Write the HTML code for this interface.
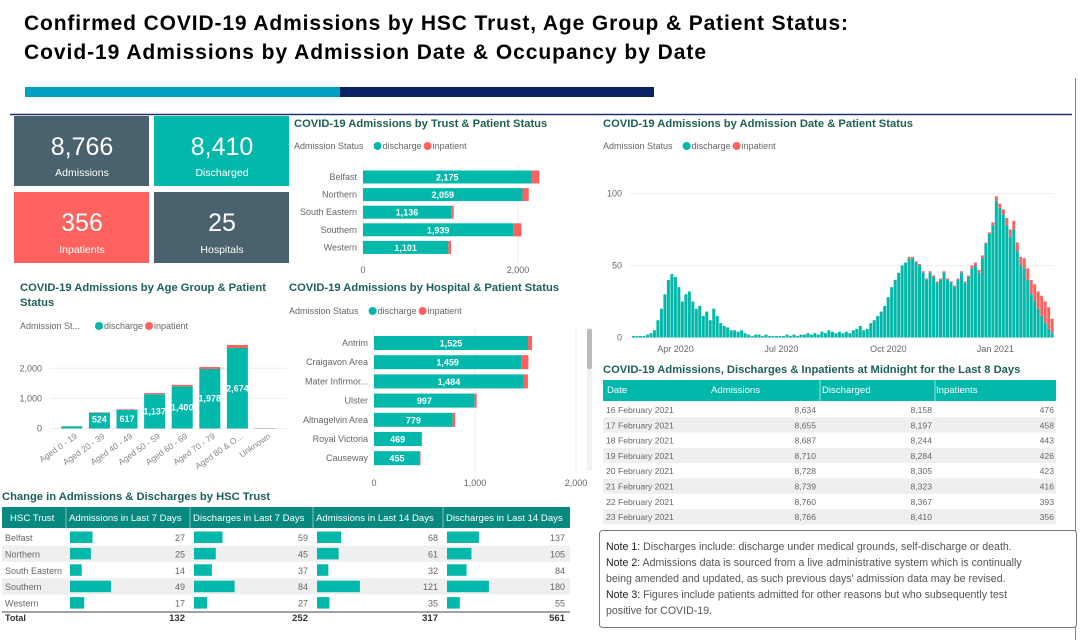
<!DOCTYPE html>
<html><head><meta charset="utf-8">
<style>
html,body{margin:0;padding:0;background:#fff;}
svg{display:block;font-family:"Liberation Sans",sans-serif;}
</style></head>
<body>
<svg id="s" width="1080" height="640" viewBox="0 0 1080 640" xmlns="http://www.w3.org/2000/svg">
  <text x="24" y="30" font-size="21" font-weight="bold" fill="#000" textLength="824" lengthAdjust="spacing">Confirmed  COVID-19  Admissions  by HSC Trust, Age Group &amp; Patient Status:</text>
  <text x="24" y="59" font-size="21" font-weight="bold" fill="#000" textLength="682" lengthAdjust="spacing">Covid-19  Admissions  by  Admission  Date &amp; Occupancy  by  Date</text>
  <rect x="25" y="87" width="315" height="10" fill="#00a0c6"/>
  <rect x="340" y="87" width="314" height="10" fill="#0b2161"/>
  <line x1="10" y1="114.5" x2="1072" y2="114.5" stroke="#1f3070" stroke-width="1.5"/>
  <line x1="1075.5" y1="78" x2="1075.5" y2="640" stroke="#888" stroke-width="1"/>

  <g>
    <rect x="14" y="116" width="135" height="70" fill="#4a626d"/>
    <text x="82" y="155" font-size="25" fill="#fff" text-anchor="middle">8,766</text>
    <text x="82" y="176" font-size="10.5" fill="#fff" text-anchor="middle">Admissions</text>
  </g>
  <g>
    <rect x="154" y="116" width="135" height="70" fill="#01b8aa"/>
    <text x="222" y="155" font-size="25" fill="#fff" text-anchor="middle">8,410</text>
    <text x="222" y="176" font-size="10.5" fill="#fff" text-anchor="middle">Discharged</text>
  </g>
  <g>
    <rect x="14" y="192" width="135" height="71" fill="#fd625e"/>
    <text x="82" y="231" font-size="25" fill="#fff" text-anchor="middle">356</text>
    <text x="82" y="253" font-size="10.5" fill="#fff" text-anchor="middle">Inpatients</text>
  </g>
  <g>
    <rect x="154" y="192" width="135" height="71" fill="#4a626d"/>
    <text x="222" y="231" font-size="25" fill="#fff" text-anchor="middle">25</text>
    <text x="222" y="253" font-size="10.5" fill="#fff" text-anchor="middle">Hospitals</text>
  </g>

  <g id="trust"></g>
  <g id="daily"></g>
  <g id="age"></g>
  <g id="hosp"></g>
  <g id="change"></g>
  <g id="last8"></g>

  <g>
    <rect x="599.5" y="530.5" width="477" height="97" rx="3" fill="#fff" stroke="#777"/>
    <g font-size="10.6" fill="#555">
      <text x="606" y="550"><tspan fill="#222">Note 1:</tspan> Discharges include: discharge under medical grounds, self-discharge or death.</text>
      <text x="606" y="566"><tspan fill="#222">Note 2:</tspan> Admissions data is sourced from a live administrative system which is continually</text>
      <text x="606" y="582">being amended and updated, as such previous days' admission data may be revised.</text>
      <text x="606" y="598"><tspan fill="#222">Note 3:</tspan> Figures include patients admitted for other reasons but who subsequently test</text>
      <text x="606" y="614">positive for COVID-19.</text>
    </g>
  </g>
</svg>
<script>
const TEAL = "#01b8aa", RED = "#fd625e", TITLE = "#1d5f5a", GREY = "#666";
// ---- data ----
const trustNames = ["Belfast","Northern","South Eastern","Southern","Western"];
const trustDischarge = [2175,2059,1136,1939,1101];
const trustInpatient = [100,80,35,105,36];

const ageNames = ["Aged 0 - 19","Aged 20 - 39","Aged 40 - 49","Aged 50 - 59","Aged 60 - 69","Aged 70 - 79","Aged 80 & O...","Unknown"];
const ageDischarge = [70,524,617,1137,1400,1978,2674,10];
const ageInpatient = [5,15,20,40,50,65,100,5];
const ageTicks = [0,1000,2000];

const hospNames = ["Antrim","Craigavon Area","Mater Infirmor...","Ulster","Altnagelvin Area","Royal Victoria","Causeway"];
const hospDischarge = [1525,1459,1484,997,779,469,455];
const hospInpatient = [40,70,40,20,25,8,6];

// daily chart: 3-day bins starting 27 Feb 2020 (average daily admissions)
const dailyStart = "2020-02-27";
const dailyDischarge = [1,1,1,1, 2,3,5,12,20,30,40,
 44,42,35,25,30,32,25,20,22,15,
 18,12,20,15,10,8,7,5,5,4,
 5,3,2,1,2,2,1,2,1,1,
 1,1,1,2,1,2,1,2,2,3,
 2,3,2,4,3,5,4,3,4,3,
 4,3,5,6,8,5,6,10,12,15,
 18,22,28,35,40,45,50,52,55,55,
 52,50,45,40,45,42,38,40,45,40,
 38,35,40,45,38,42,48,50,45,55,
 65,72,78,95,90,85,78,70,75,60,
 50,48,40,30,25,20,15,10,6,3];
const dailyInpatient = [0,0,0,0,0,0,0,0,0,0,0,
 0,0,0,0,0,0,0,0,0,0, 0,0,0,0,0,0,0,0,0,0, 0,0,0,0,0,0,0,0,0,0,
 0,0,0,0,0,0,0,0,0,0, 0,0,0,0,0,0,0,0,0,0, 0,0,0,0,0,0,0,0,0,0,
 0,0,0,0,0,0,0,0,1,1, 1,1,1,1,1,1,1,1,1,1, 1,1,1,1,1,1,2,2,2,2,
 1,1,2,3,3,4,5,5,6,6, 6,7,8,10,12,12,14,15,15,10];
const dailyTicks = [0,50,100];
const monthTicks = ["2020-04-01","2020-07-01","2020-10-01","2021-01-01"];
const monthLabels = ["Apr 2020","Jul 2020","Oct 2020","Jan 2021"];

const changeHeaders = ["HSC Trust","Admissions in Last 7 Days","Discharges in Last 7 Days","Admissions in Last 14 Days","Discharges in Last 14 Days"];
const changeTrusts = ["Belfast","Northern","South Eastern","Southern","Western"];
const adm7 = [27,25,14,49,17];
const dis7 = [59,45,37,84,27];
const adm14 = [68,61,32,121,35];
const dis14 = [137,105,84,180,55];

const l8Dates = ["16 February 2021","17 February 2021","18 February 2021","19 February 2021","20 February 2021","21 February 2021","22 February 2021","23 February 2021"];
const l8Adm = [8634,8655,8687,8710,8728,8739,8760,8766];
const l8Dis = [8158,8197,8244,8284,8305,8323,8367,8410];
const l8Inp = [476,458,443,426,423,416,393,356];

// ---- helpers ----
const NS = "http://www.w3.org/2000/svg";
function mk(parent, tag, attrs, txt){
  const e = document.createElementNS(NS, tag);
  for (const k in attrs) e.setAttribute(k, attrs[k]);
  if (txt !== undefined) e.textContent = txt;
  parent.appendChild(e); return e;
}
const fmt = v => v.toLocaleString("en-US");
function legend(g, x, y, label){
  const t = mk(g,"text",{x:x,y:y,"font-size":9,fill:GREY},label);
  
  
  const w = label.length*4.6+6;
  const c1 = mk(g,"circle",{cx:x+w+4,cy:y-3,r:4,fill:TEAL});
  
  
  mk(g,"text",{x:x+w+9,y:y,"font-size":9,fill:GREY},"discharge");
  const c2 = mk(g,"circle",{cx:x+w+54,cy:y-3,r:4,fill:RED});
  
  
  mk(g,"text",{x:x+w+59,y:y,"font-size":9,fill:GREY},"inpatient");
}
function title(g,x,y,txt,name){
  const t = mk(g,"text",{x:x,y:y,"font-size":11.2,"font-weight":"bold",fill:TITLE},txt);
  
  
}

// ---- horizontal stacked bar ----
function hbar(gid, names, dis, inp, opt){
  const g = document.getElementById(gid);
  const sx = v => opt.x0 + v*opt.k;
  opt.ticks.forEach(t=>{
    mk(g,"line",{x1:sx(t),x2:sx(t),y1:opt.gridTop,y2:opt.gridBot,stroke:"#eee"});
    const tl = mk(g,"text",{x:sx(t),y:opt.tickY,"font-size":9,fill:GREY,"text-anchor":"middle"},fmt(t));
    
    
  });
  names.forEach((n,i)=>{
    const cy = opt.y0 + i*opt.step;
    const lab = mk(g,"text",{x:opt.x0-6,y:cy+3,"font-size":9,fill:GREY,"text-anchor":"end"},n);
    
    
    const b1 = mk(g,"rect",{x:sx(0),y:cy-opt.h/2,width:dis[i]*opt.k,height:opt.h,fill:TEAL});
    
    
    const b2 = mk(g,"rect",{x:sx(dis[i]),y:cy-opt.h/2,width:inp[i]*opt.k,height:opt.h,fill:RED});
    
    
    const v = mk(g,"text",{x:sx(dis[i]/2),y:cy+3.5,"font-size":9,"font-weight":"bold",fill:"#fff","text-anchor":"middle"},fmt(dis[i]));
    
    
  });
}

// trust chart
(function(){
  const g = document.getElementById("trust");
  title(g,294,127,"COVID-19 Admissions by Trust & Patient Status","trust-chart-title");
  legend(g,294,149,"Admission Status");
  hbar("trust",trustNames,trustDischarge,trustInpatient,{x0:363,k:0.0775,y0:177,step:17.6,h:13,ticks:[0,2000],tickY:273,gridTop:165,gridBot:262});
})();

// hospital chart
(function(){
  const g = document.getElementById("hosp");
  title(g,289,291,"COVID-19 Admissions by Hospital & Patient Status","hospital-chart-title");
  legend(g,289,314,"Admission Status");
  hbar("hosp",hospNames,hospDischarge,hospInpatient,{x0:374,k:0.101,y0:343,step:19.2,h:14,ticks:[0,1000,2000],tickY:486,gridTop:328,gridBot:472});
  const sb = mk(g,"rect",{x:587,y:328,width:5,height:143,fill:"#f2f2f2"});
  
  
  const th = mk(g,"rect",{x:587,y:329,width:5,height:40,rx:2,fill:"#bbb"});
  
  
})();

// age chart
(function(){
  const g = document.getElementById("age");
  title(g,20,291,"COVID-19 Admissions by Age Group & Patient","age-chart-title-line1");
  title(g,20,306,"Status","age-chart-title-line2");
  legend(g,20,329,"Admission St...");
  const y0 = 428.5, k = 0.0301;
  const sy = v => y0 - v*k;
  const x0 = 58, step = 27.6, bw = 21;
  ageTicks.forEach(t=>{
    mk(g,"line",{x1:50,x2:287,y1:sy(t),y2:sy(t),stroke:"#eee"});
    const tl = mk(g,"text",{x:42,y:sy(t)+3,"font-size":9,fill:GREY,"text-anchor":"end"},fmt(t));
    
    
  });
  ageNames.forEach((n,i)=>{
    const cx = x0 + i*step + step/2;
    const b1 = mk(g,"rect",{x:cx-bw/2,y:sy(ageDischarge[i]),width:bw,height:ageDischarge[i]*k,fill:TEAL});
    
    
    const b2 = mk(g,"rect",{x:cx-bw/2,y:sy(ageDischarge[i]+ageInpatient[i]),width:bw,height:ageInpatient[i]*k,fill:RED});
    
    
    if (ageDischarge[i] > 300){
      const v = mk(g,"text",{x:cx,y:Math.min(sy(ageDischarge[i]/2)+3,y0-6),"font-size":9,"font-weight":"bold",fill:"#fff","text-anchor":"middle"},fmt(ageDischarge[i]));
      
      
    }
    const lab = mk(g,"text",{x:cx+6,y:y0+9,"font-size":8.5,fill:"#888","text-anchor":"end",transform:`rotate(-35 ${cx+6} ${y0+9})`},n);
    
    
  });
})();

// daily chart
(function(){
  const g = document.getElementById("daily");
  title(g,603,127,"COVID-19 Admissions by Admission Date & Patient Status","daily-chart-title");
  legend(g,603,149,"Admission Status");
  const t0 = Date.parse(dailyStart), DAY = 86400000;
  const xDay = d => 632 + d*1.163;
  const xDate = s => xDay((Date.parse(s)-t0)/DAY);
  const y0 = 337.5, k = 1.44;
  const sy = v => y0 - v*k;
  dailyTicks.forEach(t=>{
    mk(g,"line",{x1:630,x2:1054,y1:sy(t),y2:sy(t),stroke:"#eee"});
    const tl = mk(g,"text",{x:622,y:sy(t)+3,"font-size":9,fill:GREY,"text-anchor":"end"},t);
    
    
  });
  monthTicks.forEach((m,i)=>{
    const tl = mk(g,"text",{x:xDate(m)+4,y:352,"font-size":9,fill:GREY,"text-anchor":"middle"},monthLabels[i]);
    
    
  });
  const bw = 3*1.163 - 0.5;
  dailyDischarge.forEach((v,i)=>{
    const x = xDay(i*3);
    const b1 = mk(g,"rect",{x:x,y:sy(v),width:bw,height:v*k,fill:TEAL});
    
    
    const p = dailyInpatient[i];
    const b2 = mk(g,"rect",{x:x,y:sy(v+p),width:bw,height:p*k,fill:RED});
    
    
  });
})();

// change table
(function(){
  const g = document.getElementById("change");
  title(g,2,500,"Change in Admissions & Discharges by HSC Trust","change-table-title");
  const cols = [2,66,190,313,443,570];
  const hdr = mk(g,"rect",{x:2,y:507,width:568,height:21,fill:"#07897f"});
  
  
  changeHeaders.forEach((h,i)=>{
    if(i>0) mk(g,"line",{x1:cols[i],x2:cols[i],y1:507,y2:528,stroke:"#fff","stroke-opacity":0.5});
    const t = mk(g,"text",{x:cols[i]+ (i==0?8:3),y:521,"font-size":9.6,fill:"#fff"},h);
    
    
  });
  const series = [adm7,dis7,adm14,dis14];
  const maxes = series.map(s=>Math.max(...s));
  changeTrusts.forEach((n,r)=>{
    const y = 529 + r*16.4;
    if (r%2==1) mk(g,"rect",{x:2,y:y,width:568,height:16.4,fill:"#efefef"});
    const t = mk(g,"text",{x:5,y:y+12,"font-size":9,fill:GREY},n);
    
    
    series.forEach((s,c)=>{
      const x = cols[c+1]+4, wmax = (cols[c+2]-cols[c+1])*0.33;
      const b = mk(g,"rect",{x:x,y:y+2.5,width:s[r]/maxes[c]*wmax,height:11.5,fill:TEAL});
      
      
      const v = mk(g,"text",{x:cols[c+2]-5,y:y+12,"font-size":9,fill:GREY,"text-anchor":"end"},s[r]);
      
      
    });
  });
  mk(g,"line",{x1:2,x2:570,y1:612,y2:612,stroke:"#444"});
  const tt = mk(g,"text",{x:5,y:621,"font-size":9,"font-weight":"bold",fill:"#333"},"Total");
  
  
  series.forEach((s,c)=>{
    const v = mk(g,"text",{x:cols[c+2]-5,y:621,"font-size":9.5,"font-weight":"bold",fill:"#333","text-anchor":"end"},s.reduce((a,b)=>a+b,0));
    
    
  });
})();

// last 8 days table
(function(){
  const g = document.getElementById("last8");
  title(g,603,373,"COVID-19 Admissions, Discharges & Inpatients at Midnight for the Last 8 Days","last8-table-title");
  const hdr = mk(g,"rect",{x:603,y:380,width:453,height:21,fill:"#01b8aa"});
  
  
  const hx = [607,711,822,936], hl = ["Date","Admissions","Discharged","Inpatients"];
  [820,935].forEach(x=>mk(g,"line",{x1:x,x2:x,y1:380,y2:401,stroke:"#fff","stroke-opacity":0.6}));
  hl.forEach((h,i)=>{
    const t = mk(g,"text",{x:hx[i],y:393,"font-size":9.6,fill:"#fff"},h);
    
    
  });
  l8Dates.forEach((d,r)=>{
    const y = 402 + r*15.3;
    if (r%2==1) mk(g,"rect",{x:603,y:y,width:453,height:15.3,fill:"#efefef"});
    const t = mk(g,"text",{x:606,y:y+11,"font-size":8.6,fill:GREY},d);
    
    
    [[l8Adm,816],[l8Dis,932],[l8Inp,1054]].forEach(([arr,x])=>{
      const v = mk(g,"text",{x:x,y:y+11,"font-size":8.6,fill:GREY,"text-anchor":"end"},fmt(arr[r]));
      
      
    });
  });
})();
</script>
</body></html>
